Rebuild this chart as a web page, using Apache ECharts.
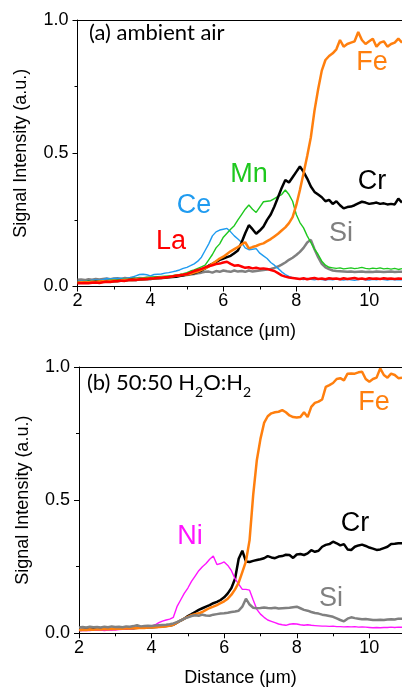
<!DOCTYPE html>
<html>
<head>
<meta charset="utf-8">
<script src="https://cdn.jsdelivr.net/npm/echarts@6/dist/echarts.min.js"></script>
<style>
html,body{margin:0;padding:0;background:#fff;}
#c{width:402px;height:690px;}
</style>
</head>
<body>
<div id="c"></div>
<script>
// Distance grid (µm)
const distance = [2.0,2.1,2.2,2.3,2.4,2.5,2.6,2.7,2.8,2.9,
3.0,3.1,3.2,3.3,3.4,3.5,3.6,3.7,3.8,3.9,
4.0,4.1,4.2,4.3,4.4,4.5,4.6,4.7,4.8,4.9,
5.0,5.1,5.2,5.3,5.4,5.5,5.6,5.7,5.8,5.9,
6.0,6.1,6.2,6.3,6.4,6.5,6.6,6.7,6.8,6.9,
7.0,7.1,7.2,7.3,7.4,7.5,7.6,7.7,7.8,7.9,
8.0,8.1,8.2,8.3,8.4,8.5,8.6,8.7,8.8,8.9,
9.0,9.1,9.2,9.3,9.4,9.5,9.6,9.7,9.8,9.9,
10.0,10.1,10.2,10.3,10.4,10.5,10.6,10.7,10.8,10.9];

// Panel (a): ambient air
const laA = [.012,.012,.013,.012,.014,.015,.013,.016,.018,.017,
.02,.02,.022,.021,.024,.025,.024,.027,.028,.027,
.03,.031,.033,.032,.035,.036,.038,.04,.042,.044,
.047,.052,.058,.062,.066,.072,.076,.08,.084,.086,
.09,.093,.085,.078,.08,.075,.07,.072,.068,.07,
.067,.068,.066,.062,.058,.05,.042,.037,.034,.032,
.03,.028,.031,.027,.03,.032,.028,.03,.027,.031,
.029,.03,.027,.031,.028,.03,.032,.028,.03,.027,
.031,.029,.03,.028,.031,.029,.03,.028,.03,.029];
const ceA = [.02,.02,.022,.021,.024,.025,.024,.026,.03,.028,
.03,.03,.031,.029,.032,.035,.04,.045,.046,.044,
.04,.045,.046,.047,.05,.052,.055,.058,.062,.068,
.072,.078,.085,.095,.11,.135,.16,.19,.205,.212,
.215,.218,.205,.19,.178,.165,.145,.138,.14,.142,
.125,.115,.105,.09,.08,.068,.055,.045,.038,.032,
.03,.028,.026,.03,.027,.025,.028,.026,.024,.027,
.025,.028,.026,.024,.027,.025,.023,.026,.028,.025,
.024,.027,.025,.028,.026,.024,.027,.025,.026,.025];
const mnA = [.018,.018,.019,.02,.019,.02,.021,.022,.022,.024,
.025,.025,.026,.027,.028,.03,.03,.031,.032,.034,
.035,.036,.037,.038,.039,.04,.041,.043,.045,.048,
.052,.058,.062,.068,.074,.08,.1,.12,.145,.16,
.185,.2,.215,.228,.25,.27,.29,.306,.29,.278,
.298,.318,.32,.322,.33,.338,.345,.362,.345,.32,
.27,.24,.22,.19,.165,.14,.12,.095,.08,.072,
.07,.068,.07,.066,.068,.07,.067,.069,.072,.068,
.066,.069,.067,.07,.066,.068,.065,.068,.064,.067];
const crA = [.015,.016,.015,.017,.016,.018,.017,.019,.018,.02,
.02,.021,.022,.022,.024,.025,.024,.026,.027,.028,
.028,.03,.031,.032,.033,.035,.036,.037,.039,.042,
.045,.048,.05,.055,.06,.068,.078,.085,.092,.1,
.105,.11,.115,.125,.135,.165,.2,.23,.215,.198,
.21,.225,.25,.27,.3,.335,.37,.4,.39,.41,
.43,.45,.43,.405,.375,.355,.345,.335,.32,.325,
.31,.32,.305,.293,.298,.3,.305,.312,.318,.315,
.31,.312,.315,.31,.312,.308,.31,.308,.33,.315];
const feA = [.015,.016,.017,.016,.018,.017,.019,.02,.019,.021,
.022,.021,.023,.024,.025,.024,.026,.027,.028,.029,
.03,.031,.032,.034,.035,.036,.038,.04,.042,.044,
.045,.048,.052,.056,.062,.068,.075,.085,.095,.105,
.112,.122,.132,.14,.148,.158,.166,.143,.148,.152,
.158,.162,.17,.178,.188,.198,.21,.222,.238,.26,
.305,.362,.425,.49,.56,.66,.74,.81,.85,.865,
.875,.89,.925,.9,.91,.915,.92,.955,.925,.91,
.92,.93,.9,.915,.92,.9,.91,.915,.93,.915];
const siA = [.025,.026,.024,.027,.025,.028,.026,.028,.03,.027,
.03,.031,.028,.032,.03,.033,.03,.032,.031,.033,
.032,.034,.033,.035,.034,.036,.037,.038,.04,.041,
.043,.045,.047,.05,.052,.055,.056,.052,.058,.055,
.06,.057,.055,.06,.056,.058,.055,.06,.056,.058,
.06,.062,.064,.066,.07,.075,.082,.09,.1,.108,
.118,.13,.145,.165,.175,.14,.11,.085,.072,.065,
.06,.058,.057,.056,.055,.056,.054,.055,.056,.054,
.055,.054,.056,.055,.054,.055,.056,.054,.055,.055];

// Panel (b): 50:50 H2O:H2
const feB = [.012,.013,.012,.014,.013,.015,.014,.016,.015,.017,
.016,.018,.017,.019,.018,.02,.019,.021,.02,.022,
.022,.023,.024,.025,.026,.028,.032,.04,.048,.055,
.062,.068,.072,.075,.08,.088,.095,.1,.106,.113,
.12,.13,.145,.165,.19,.23,.27,.35,.52,.65,
.73,.79,.815,.826,.83,.832,.838,.83,.818,.812,
.81,.812,.83,.812,.85,.865,.87,.878,.925,.932,
.94,.955,.958,.95,.975,.976,.975,.98,.982,.955,
.945,.955,.96,.995,.97,.96,.975,.97,.958,.96];
const crB = [.012,.013,.014,.013,.015,.014,.016,.015,.017,.016,
.018,.017,.019,.018,.02,.019,.021,.022,.021,.023,
.023,.024,.025,.026,.027,.029,.032,.04,.048,.055,
.065,.072,.08,.088,.094,.1,.106,.113,.118,.125,
.135,.15,.17,.205,.28,.31,.27,.268,.272,.275,
.278,.282,.29,.285,.282,.288,.29,.295,.294,.283,
.296,.298,.294,.3,.312,.306,.31,.325,.332,.335,
.344,.338,.33,.335,.315,.313,.325,.33,.333,.328,
.322,.318,.313,.315,.32,.325,.335,.336,.338,.338];
const niB = [.01,.01,.011,.01,.012,.011,.012,.01,.012,.013,
.012,.014,.015,.016,.017,.018,.02,.021,.022,.024,
.027,.032,.04,.046,.05,.053,.06,.1,.125,.15,
.17,.195,.215,.235,.25,.262,.278,.29,.258,.262,
.268,.255,.235,.205,.185,.165,.165,.162,.125,.09,
.072,.06,.05,.045,.04,.035,.032,.03,.034,.036,
.035,.032,.03,.032,.03,.029,.028,.027,.027,.026,
.027,.025,.025,.024,.025,.024,.025,.023,.024,.023,
.022,.021,.022,.021,.022,.022,.023,.022,.023,.023];
const siB = [.022,.024,.022,.025,.023,.024,.022,.025,.023,.026,
.024,.025,.023,.026,.025,.027,.03,.026,.027,.028,
.027,.029,.03,.031,.032,.034,.037,.042,.048,.055,
.06,.065,.068,.066,.07,.067,.066,.07,.072,.074,
.075,.077,.08,.082,.085,.1,.13,.108,.096,.094,
.095,.097,.095,.094,.096,.093,.094,.095,.096,.098,
.1,.094,.088,.085,.08,.076,.074,.07,.068,.065,
.062,.056,.05,.045,.055,.06,.057,.055,.053,.054,
.052,.05,.05,.051,.05,.052,.053,.052,.055,.055];

const xTicks = [2,4,6,8,10];
const yTicks = [0.0,0.5,1.0];

const C = {Fe:'#ff7f0e', Cr:'#000000', Mn:'#1ec81e', Ce:'#1f9bf0', La:'#ff0000', Si:'#808080', Ni:'#ff14ff'};

const chart = echarts.init(document.getElementById('c'), null, {renderer:'canvas'});
const AF = "'Liberation Sans', Arial, sans-serif";

function xAx(g){
  return {
    type:'value', gridIndex:g, min:2, max:10.9, interval:2, position:'bottom',
    axisLine:{show:true, onZero:false, lineStyle:{color:'#000', width:1}},
    axisTick:{show:true, length:5, lineStyle:{color:'#000'}},
    minorTick:{show:true, splitNumber:2, length:3, lineStyle:{color:'#000'}},
    splitLine:{show:false},
    axisLabel:{fontSize:18, color:'#000', fontFamily:AF, margin:6, showMaxLabel:false,
      formatter:v=> xTicks.indexOf(v)>=0 ? String(v) : ''},
    name:'Distance (\u03bcm)', nameLocation:'middle', nameGap:36,
    nameTextStyle:{fontSize:18, color:'#000', fontFamily:AF}
  };
}
function xTop(g){
  return {type:'value', gridIndex:g, min:2, max:10.9, position:'top',
    axisLine:{show:true, onZero:false, lineStyle:{color:'#000', width:1}},
    axisTick:{show:false}, axisLabel:{show:false}, splitLine:{show:false}};
}
function yAx(g){
  return {
    type:'value', gridIndex:g, min:0, max:1, interval:0.5,
    axisLine:{show:true, lineStyle:{color:'#000', width:1}},
    axisTick:{show:true, length:5, lineStyle:{color:'#000'}},
    minorTick:{show:true, splitNumber:2, length:3, lineStyle:{color:'#000'}},
    splitLine:{show:false},
    axisLabel:{fontSize:18, color:'#000', fontFamily:AF, margin:9,
      formatter:v=> yTicks.indexOf(v)>=0 ? v.toFixed(1) : ''},
    name:'Signal Intensity (a.u.)', nameLocation:'middle', nameGap:47,
    nameTextStyle:{fontSize:18, color:'#000', fontFamily:AF}
  };
}
function line(name, arr, xi, yi, color, w){
  return {type:'line', name, xAxisIndex:xi, yAxisIndex:yi, symbol:'none',
    data: distance.map((x,i)=>[x, arr[i]]),
    lineStyle:{color, width:w}, itemStyle:{color}, animation:false, silent:true};
}
function lbl(text, x, y, color){
  return {type:'text', x, y, silent:true,
    style:{text, fill:color, fontSize:27, fontFamily:AF, align:'center', verticalAlign:'middle'}};
}

chart.setOption({
  backgroundColor:'#fff',
  animation:false,
  grid:[
    {left:77.5, top:20, width:324.5, height:266.5},
    {left:79, top:367, width:323, height:266.3}
  ],
  xAxis:[xAx(0), xTop(0), xAx(1), xTop(1)],
  yAxis:[yAx(0), yAx(1)],
  series:[
    line('Si', siA, 0, 0, C.Si, 2.5),
    line('Ce', ceA, 0, 0, C.Ce, 1.4),
    line('Mn', mnA, 0, 0, C.Mn, 1.4),
    line('Cr', crA, 0, 0, C.Cr, 2.5),
    line('Fe', feA, 0, 0, C.Fe, 2.5),
    line('La', laA, 0, 0, C.La, 2.5),
    line('Cr', crB, 2, 1, C.Cr, 2.5),
    line('Ni', niB, 2, 1, C.Ni, 1.4),
    line('Fe', feB, 2, 1, C.Fe, 2.5),
    line('Si', siB, 2, 1, C.Si, 2.5)
  ],
  graphic:[
    {type:'text', x:89, y:33, silent:true,
      style:{text:'(a) ambient air', fill:'#000', fontSize:22, fontFamily:'Lato, sans-serif', align:'left', verticalAlign:'middle'}},
    {type:'text', x:87, y:385, silent:true,
      style:{text:'{a|(b) 50:50 H}{s|2}{a|O:H}{s|2}', align:'left', verticalAlign:'middle',
        rich:{
          a:{fontSize:22, fontFamily:'Lato, sans-serif', color:'#000', lineHeight:26, verticalAlign:'top'},
          s:{fontSize:14, fontFamily:'Lato, sans-serif', color:'#000', lineHeight:14, verticalAlign:'top', padding:[13,0,0,0]}
        }}},
    lbl('Fe', 372, 63, C.Fe),
    lbl('Mn', 249, 175, C.Mn),
    lbl('Ce', 194, 206, C.Ce),
    lbl('Cr', 372, 182, C.Cr),
    lbl('La', 171, 242, C.La),
    lbl('Si', 341, 234, C.Si),
    lbl('Fe', 374, 403, C.Fe),
    lbl('Cr', 355, 524, C.Cr),
    lbl('Ni', 190, 537, C.Ni),
    lbl('Si', 331, 599, C.Si)
  ]
});
</script>
</body>
</html>
